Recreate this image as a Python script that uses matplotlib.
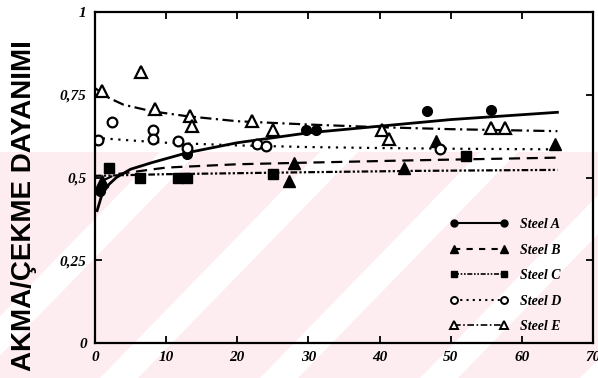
import numpy as np
import matplotlib
matplotlib.use("Agg")
import matplotlib.pyplot as plt
from matplotlib.patches import Polygon, Rectangle

# measured points
steel_a_x = [0.7, 13, 29.6, 31, 46.6, 55.7]
steel_a_y = [0.46, 0.57, 0.645, 0.645, 0.70, 0.705]
steel_b_x = [1.0, 27.3, 28.0, 43.4, 48.0, 64.7]
steel_b_y = [0.49, 0.49, 0.545, 0.53, 0.61, 0.60]
steel_c_x = [2.0, 6.3, 11.6, 13.0, 25.0, 52.2]
steel_c_y = [0.53, 0.50, 0.50, 0.50, 0.51, 0.565]
steel_d_x = [0.4, 2.4, 8.1, 8.1, 11.6, 13.0, 22.8, 24.0, 48.5]
steel_d_y = [0.612, 0.667, 0.645, 0.615, 0.609, 0.59, 0.60, 0.594, 0.585]
steel_e_x = [1.0, 6.4, 8.4, 13.3, 13.6, 22.0, 25.0, 40.3, 41.3, 55.7, 57.6]
steel_e_y = [0.76, 0.82, 0.706, 0.685, 0.655, 0.67, 0.645, 0.645, 0.615, 0.65, 0.65]

# fitted curves
fit_a_x = [0.3, 1, 2, 3, 5, 8, 13, 20, 30, 40, 50, 65]
fit_a_y = [0.40, 0.45, 0.48, 0.50, 0.525, 0.545, 0.575, 0.605, 0.635, 0.655, 0.675, 0.697]
fit_b_x = [1, 3, 10, 20, 30, 45, 65]
fit_b_y = [0.49, 0.51, 0.53, 0.54, 0.545, 0.552, 0.56]
fit_c_x = [0, 10, 20, 30, 45, 65]
fit_c_y = [0.505, 0.51, 0.513, 0.516, 0.52, 0.523]
fit_d_x = [0, 5, 10, 20, 30, 40, 50, 65]
fit_d_y = [0.62, 0.612, 0.605, 0.597, 0.592, 0.589, 0.587, 0.585]
fit_e_x = [0, 2, 4, 8, 13, 20, 30, 40, 50, 65]
fit_e_y = [0.77, 0.74, 0.72, 0.70, 0.685, 0.67, 0.66, 0.652, 0.646, 0.64]

x_ticks = [0, 10, 20, 30, 40, 50, 60, 70]
y_ticks = [0, 0.25, 0.5, 0.75, 1]
y_tick_labels = ["0", "0,25", "0,5", "0,75", "1"]
labels = ["Steel A", "Steel B", "Steel C", "Steel D", "Steel E"]

W, H = 598, 378
fig = plt.figure(figsize=(W / 100, H / 100), dpi=100)

# faint pink watermark bands in the background
pink = "#fdedf0"
fig.patches.append(Rectangle((0, 0), 1, (H - 152) / H, transform=fig.transFigure,
                             facecolor=pink, edgecolor="none", zorder=-10))
for x0 in [-60, 100, 260, 420, 580]:
    pts = [(x0, H), (x0 + 38, H), (x0 + 38 + 220, 152), (x0 + 220, 152)]
    pts = [(px / W, 1 - py / H) for px, py in pts]
    fig.patches.append(Polygon(pts, closed=True, transform=fig.transFigure,
                               facecolor="white", edgecolor="none", zorder=-9))

ax = fig.add_axes([95 / W, 35 / H, 498 / W, 331 / H])
ax.patch.set_alpha(0)

lw = 1.6
ax.plot(fit_a_x, fit_a_y, color="black", lw=2.0, ls="-")
ax.plot(fit_b_x, fit_b_y, color="black", lw=lw, ls=(0, (5, 3)))
ax.plot(fit_c_x, fit_c_y, color="black", lw=lw, ls=(0, (3, 1, 1, 1, 1, 1)))
ax.plot(fit_d_x, fit_d_y, color="black", lw=lw, ls=(0, (1, 2.5)))
ax.plot(fit_e_x, fit_e_y, color="black", lw=lw, ls=(0, (5, 2, 1, 2)))

ms = 7
ax.plot(steel_a_x, steel_a_y, "o", color="black", ms=ms)
ax.plot(steel_b_x, steel_b_y, "^", color="black", ms=ms + 1)
ax.plot(steel_c_x, steel_c_y, "s", color="black", ms=ms)
ax.plot(steel_d_x, steel_d_y, "o", mfc="white", mec="black", mew=1.6, ms=ms)
ax.plot(steel_e_x, steel_e_y, "^", mfc="white", mec="black", mew=1.6, ms=ms + 2)

# legend handles: markers at both ends of a short line
handles = [
    plt.Line2D([], [], color="black", lw=1.5, ls="-", marker="o", ms=5),
    plt.Line2D([], [], color="black", lw=1.5, ls=(0, (3, 3)), marker="^", ms=6),
    plt.Line2D([], [], color="black", lw=1.2, ls=(0, (3, 1, 1, 1, 1, 1)), marker="s", ms=5),
    plt.Line2D([], [], color="black", lw=1.5, ls=(0, (1, 2)), marker="o", mfc="white", mew=1.4, ms=5),
    plt.Line2D([], [], color="black", lw=1.2, ls=(0, (4, 1.5, 1, 1.5)), marker="^", mfc="white", mew=1.4, ms=6),
]
leg = ax.legend(handles, labels, loc="upper left", bbox_to_anchor=(0.688, 0.415),
                numpoints=2, handlelength=4.2, labelspacing=0.9, frameon=False,
                prop={"family": "Liberation Serif", "weight": "bold", "style": "italic", "size": 10})

ax.set_xlim(0, 70)
ax.set_ylim(0, 1)
ax.set_xticks(x_ticks)
ax.set_yticks(y_ticks)
ax.set_yticklabels(y_tick_labels)
ax.tick_params(direction="in", length=5, width=1.3, top=True, right=True, pad=6)
for lab in ax.get_xticklabels() + ax.get_yticklabels():
    lab.set_fontfamily("Liberation Serif")
    lab.set_fontstyle("italic")
    lab.set_fontweight("bold")
    lab.set_fontsize(11)
for s in ax.spines.values():
    s.set_linewidth(1.6)

fig.text(24 / W, 1 - 206 / H, "AKMA/ÇEKME DAYANIMI", rotation=90, ha="center", va="center",
         fontfamily="Liberation Sans", fontweight="bold", fontsize=20)

fig.savefig("out.png", dpi=100)
